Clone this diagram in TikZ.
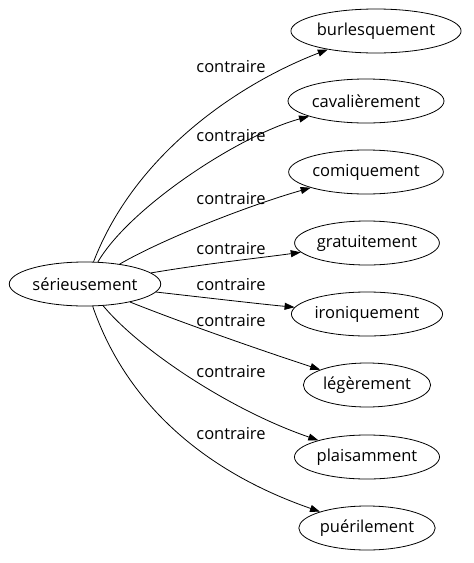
\documentclass[tikz,border=0pt]{standalone}
\usepackage{fontspec}
\setmainfont{Open Sans}
\usetikzlibrary{arrows.meta,shapes.geometric}

\begin{document}
\begin{tikzpicture}[
  x=1pt, y=-1pt, font=\fontsize{16.5}{19}\selectfont,
  line width=0.8pt,
  word/.style={draw, ellipse, minimum height=44pt, inner xsep=1pt,
               inner ysep=2pt},
  rel/.style={inner sep=1pt},
  >={Triangle[length=10pt,width=7pt]}]
\useasboundingbox (0,0) rectangle (474,563);
\node[word] (src) at (85,284) {sérieusement};
\node[word] (burl) at (376,31) {burlesquement};
\node[word] (cava) at (366,101) {cavalièrement};
\node[word] (comi) at (366,172) {comiquement};
\node[word] (grat) at (367,243) {gratuitement};
\node[word] (iron) at (367,314) {ironiquement};
\node[word] (lege) at (367,385) {légèrement};
\node[word] (plai) at (367,457) {plaisamment};
\node[word] (puer) at (367,528) {puérilement};
\node[rel] (l1) at (231,67) {contraire};
\node[rel] (l2) at (231,136) {contraire};
\node[rel] (l3) at (231,199) {contraire};
\node[rel] (l4) at (231,249) {contraire};
\node[rel] (l5) at (231,285) {contraire};
\node[rel] (l6) at (231,321) {contraire};
\node[rel] (l7) at (231,372) {contraire};
\node[rel] (l8) at (231,434) {contraire};
\draw[->] (src) .. controls (135,154) and (238,84) .. (burl);
\draw[->] (src) .. controls (130,207) and (240,135) .. (cava);
\draw[->] (src) .. controls (165,238) and (250,205) .. (comi);
\draw[->] (src) .. controls (210,263) and (260,258) .. (grat);
\draw[->] (src) .. controls (200,297) and (260,304) .. (iron);
\draw[->] (src) .. controls (180,322) and (260,350) .. (lege);
\draw[->] (src) .. controls (140,350) and (230,410) .. (plai);
\draw[->] (src) .. controls (125,400) and (200,470) .. (puer);
\end{tikzpicture}
\end{document}
